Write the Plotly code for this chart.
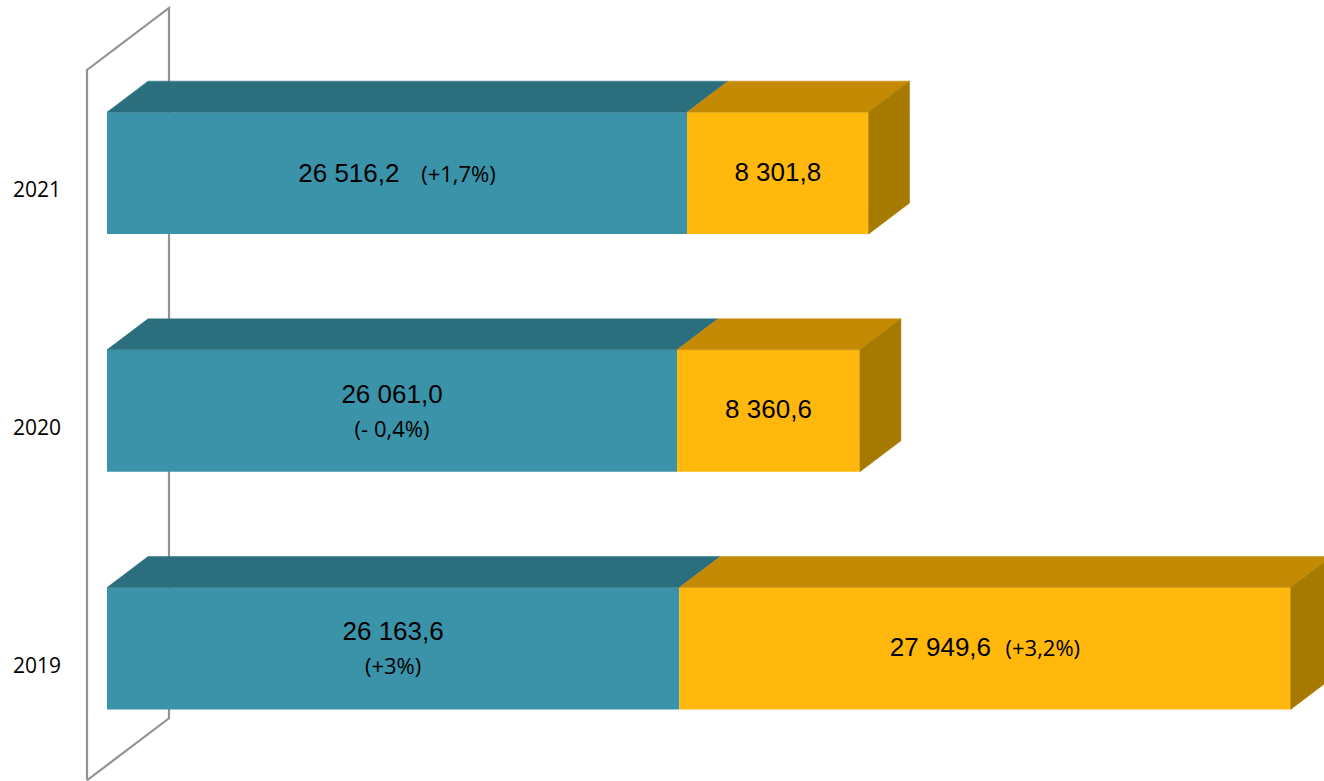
import plotly.graph_objects as go

# ---- data ----
years = ["2019", "2020", "2021"]
teal_values = [26163.6, 26061.0, 26516.2]
orange_values = [27949.6, 8360.6, 8301.8]
teal_labels = ["26 163,6", "26 061,0", "26 516,2"]
teal_pct = ["(+3%)", "(- 0,4%)", "(+1,7%)"]
orange_labels = ["27 949,6", "8 360,6", "8 301,8"]
orange_pct = ["(+3,2%)", "", ""]

# ---- styling / geometry ----
W, H = 1324, 781
x0_px = 107.0
px_per_unit = 580.0 / 26516.2
cat_px = 237.7
y0_px = 648.5
bar_w = 0.513
depth_x = 41 / px_per_unit
depth_y = 31 / cat_px

xr = [-x0_px / px_per_unit, (W - x0_px) / px_per_unit]
yr = [-(H - y0_px) / cat_px, y0_px / cat_px]

TEAL = "#3A93A8"
TEAL_TOP = "#2B6F7E"
ORANGE = "#FFB80B"
ORANGE_TOP = "#C48A03"
ORANGE_SIDE = "#A67A00"
WALL = "#939393"

fig = go.Figure()

# back wall (drawn below traces)
wx = -20 / px_per_unit
w_bot, w_top = yr[0] + 0.003, 2.434
wall_pts = [(wx, w_bot), (wx, w_top), (wx + 2 * depth_x, w_top + 2 * depth_y),
            (wx + 2 * depth_x, w_bot + 2 * depth_y), (wx, w_bot)]
path = "M " + " L ".join(f"{x},{y}" for x, y in wall_pts)
fig.add_shape(type="path", path=path, xref="x", yref="y", layer="below",
              line=dict(color=WALL, width=2.2))

ys = list(range(len(years)))

# front faces as stacked bars
fig.add_trace(go.Bar(y=ys, x=teal_values, base=[0] * 3, orientation="h",
                     width=bar_w, marker=dict(color=TEAL, line=dict(width=0)),
                     showlegend=False, hoverinfo="skip"))
fig.add_trace(go.Bar(y=ys, x=orange_values, base=teal_values, orientation="h",
                     width=bar_w, marker=dict(color=ORANGE, line=dict(width=0)),
                     showlegend=False, hoverinfo="skip"))

def poly(xs, ys_, color):
    fig.add_trace(go.Scatter(x=xs + [xs[0]], y=ys_ + [ys_[0]], mode="lines",
                             fill="toself", fillcolor=color,
                             line=dict(color=color, width=0.5),
                             hoverinfo="skip", showlegend=False))

for i, (a, b) in enumerate(zip(teal_values, orange_values)):
    top = i + bar_w / 2
    bot = i - bar_w / 2
    poly([0, a, a + depth_x, depth_x], [top, top, top + depth_y, top + depth_y], TEAL_TOP)
    poly([a, a + b, a + b + depth_x, a + depth_x], [top, top, top + depth_y, top + depth_y], ORANGE_TOP)
    poly([a + b, a + b + depth_x, a + b + depth_x, a + b],
         [bot, bot + depth_y, top + depth_y, top], ORANGE_SIDE)

NUM_FONT = "Liberation Sans, Arial, sans-serif"
PCT_FONT = "Open Sans, sans-serif"

def lbl(num, pct, two_lines, gap="&nbsp;&nbsp;&nbsp;"):
    if not pct:
        return num
    p = f"<span style='font-family:{PCT_FONT};font-size:22px'>{pct}</span>"
    if two_lines:
        return f"{num}<br>{p}"
    return f"{num}{gap}{p}"

teal_text = [lbl(teal_labels[0], teal_pct[0], True),
             lbl(teal_labels[1], teal_pct[1], True),
             lbl(teal_labels[2], teal_pct[2], False)]
orange_text = [lbl(orange_labels[0], orange_pct[0], False, "&nbsp;&nbsp;"),
               orange_labels[1], orange_labels[2]]

fig.add_trace(go.Scatter(x=[v / 2 for v in teal_values], y=[y - 0.01 for y in ys], mode="text",
                         text=teal_text, textposition="middle center",
                         textfont=dict(family=NUM_FONT, size=26, color="black"),
                         hoverinfo="skip", showlegend=False))
fig.add_trace(go.Scatter(x=[a + b / 2 for a, b in zip(teal_values, orange_values)],
                         y=[y - 0.005 for y in ys], mode="text",
                         text=orange_text, textposition="middle center",
                         textfont=dict(family=NUM_FONT, size=26, color="black"),
                         hoverinfo="skip", showlegend=False))

# year labels
fig.add_trace(go.Scatter(x=[(37 - x0_px) / px_per_unit] * 3,
                         y=[y - 19 / cat_px for y in ys], mode="text",
                         text=years, textposition="middle center",
                         textfont=dict(family="Open Sans, sans-serif", size=21, color="black"),
                         hoverinfo="skip", showlegend=False))

fig.update_layout(width=W, height=H, margin=dict(l=0, r=0, t=0, b=0),
                  paper_bgcolor="white", plot_bgcolor="white",
                  barmode="overlay",
                  xaxis=dict(range=xr, visible=False, fixedrange=True),
                  yaxis=dict(range=yr, visible=False, fixedrange=True))

fig.write_html("out.html", config={"displayModeBar": False},
               post_script="document.body.style.margin='0';")
